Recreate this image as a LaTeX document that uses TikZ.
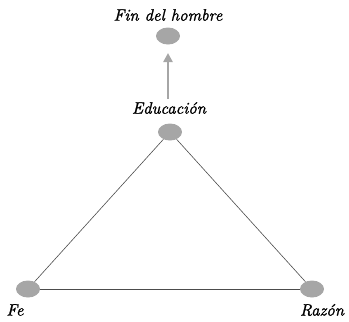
\documentclass[tikz,border=0pt]{standalone}
\usepackage{fontspec}
\newfontfamily\lblfont{lmroman10-italic.otf}[FakeBold=1.2]
\usetikzlibrary{arrows.meta,shapes.geometric}
\begin{document}
\begin{tikzpicture}[x=1pt,y=-1pt,
  dot/.style={ellipse,fill=black!35,minimum width=24pt,minimum height=17pt,inner sep=0pt},
  lbl/.style={font=\fontsize{16.5}{19}\selectfont\lblfont,inner sep=0pt},
  edge/.style={draw=black!70,line width=0.6pt},
  up/.style={draw=black!35,line width=2.4pt,-{Triangle[length=9pt,width=9pt]}}]
\useasboundingbox (0,0) rectangle (349,322);
\node[dot] (fin) at (168,36) {};
\node[dot] (edu) at (170,132) {};
\node[dot] (fe) at (28,289) {};
\node[dot] (raz) at (312,289) {};
\node[lbl] (tfin) at (168,15) {Fin del hombre};
\node[lbl] (tedu) at (169,108) {Educación};
\node[lbl] (tfe) at (15,310) {Fe};
\node[lbl] (traz) at (322,310) {Razón};
\draw[edge] (edu) -- (fe);
\draw[edge] (edu) -- (raz);
\draw[edge] (fe) -- (raz);
\coordinate (a0) at (168,99);
\coordinate (a1) at (168,53);
\draw[up] (a0) -- (a1);
\end{tikzpicture}
\end{document}
